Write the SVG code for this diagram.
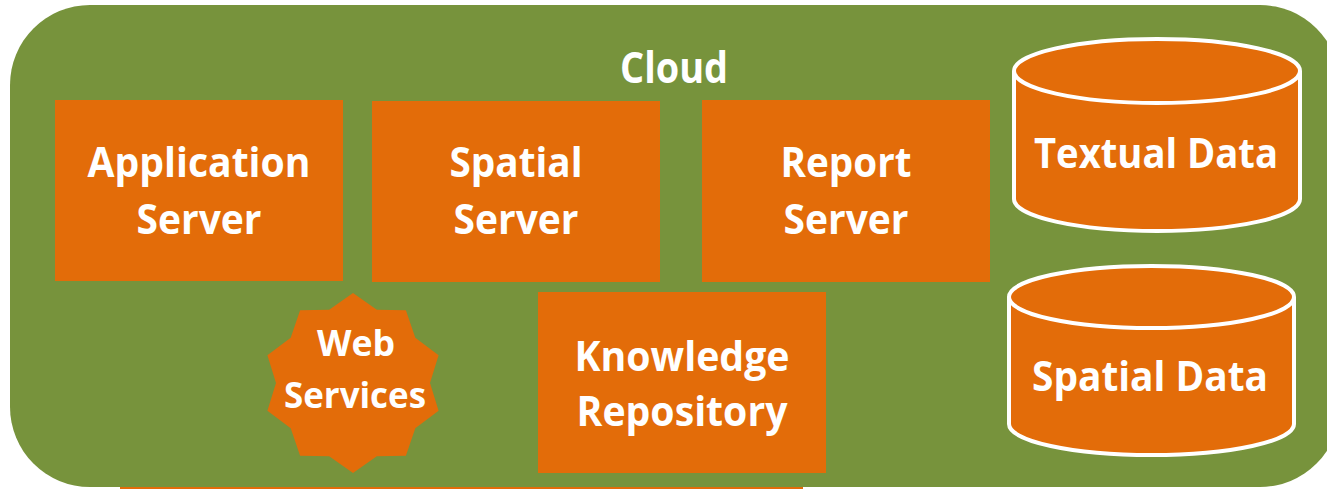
<svg xmlns="http://www.w3.org/2000/svg" width="1327" height="489" viewBox="0 0 1327 489">
<style>
.box{fill:#E36C09;}
.cyl{fill:#E36C09;stroke:#FFFFFF;stroke-width:4;}
.t{font-family:"Open Sans","Liberation Sans",sans-serif;font-weight:700;font-size:41px;fill:#FFFFFF;text-anchor:middle;}
.ws{font-size:36px;}
.big{font-size:43px;}
</style>
<rect width="1327" height="489" fill="#FFFFFF"/>
<g id="cloud">
<rect x="10" y="5" width="1330" height="482" rx="80" ry="80" fill="#77933C"/>
<text class="t big" x="674" y="83" textLength="108" lengthAdjust="spacingAndGlyphs">Cloud</text>
</g>
<rect x="120" y="487" width="683" height="2" fill="#E36C09"/>
<g id="application-server">
<rect class="box" x="55" y="100" width="288" height="181"/>
<text class="t" x="199" y="177" textLength="223" lengthAdjust="spacingAndGlyphs">Application</text>
<text class="t" x="199" y="234" textLength="125" lengthAdjust="spacingAndGlyphs">Server</text>
</g>
<g id="spatial-server">
<rect class="box" x="372" y="101" width="288" height="181"/>
<text class="t" x="516" y="177" textLength="133" lengthAdjust="spacingAndGlyphs">Spatial</text>
<text class="t" x="516" y="234" textLength="125" lengthAdjust="spacingAndGlyphs">Server</text>
</g>
<g id="report-server">
<rect class="box" x="702" y="100" width="288" height="182"/>
<text class="t" x="846" y="177" textLength="131" lengthAdjust="spacingAndGlyphs">Report</text>
<text class="t" x="846" y="234" textLength="125" lengthAdjust="spacingAndGlyphs">Server</text>
</g>
<g id="knowledge-repository">
<rect class="box" x="538" y="292" width="288" height="181"/>
<text class="t" x="682" y="371" textLength="215" lengthAdjust="spacingAndGlyphs">Knowledge</text>
<text class="t" x="682" y="426" textLength="211" lengthAdjust="spacingAndGlyphs">Repository</text>
</g>
<g id="web-services">
<polygon class="box" points="353,293 376.8,309.8 405.9,310.2 415.3,337.7 438.6,355.2 430,383 438.6,410.8 415.3,428.3 405.9,455.8 376.8,456.2 353,473 329.2,456.2 300.1,455.8 290.7,428.3 267.4,410.8 276,383 267.4,355.2 290.7,337.7 300.1,310.2 329.2,309.8"/>
<text class="t ws" x="356" y="356" textLength="78" lengthAdjust="spacingAndGlyphs">Web</text>
<text class="t ws" x="355" y="408" textLength="142" lengthAdjust="spacingAndGlyphs">Services</text>
</g>
<g id="textual-data">
<path class="cyl" d="M1014,71 A143,32 0 0 1 1300,71 L1300,199 A143,32 0 0 1 1014,199 Z"/>
<path class="cyl" fill="none" d="M1014,71 A143,32 0 0 0 1300,71"/>
<text class="t" x="1156" y="168" textLength="244" lengthAdjust="spacingAndGlyphs">Textual Data</text>
</g>
<g id="spatial-data">
<path class="cyl" d="M1009,297 A142,31 0 0 1 1294,297 L1294,424 A142,31 0 0 1 1009,424 Z"/>
<path class="cyl" fill="none" d="M1009,297 A142,31 0 0 0 1294,297"/>
<text class="t" x="1150" y="391" textLength="236" lengthAdjust="spacingAndGlyphs">Spatial Data</text>
</g>
<g id="connectors"></g>
</svg>
